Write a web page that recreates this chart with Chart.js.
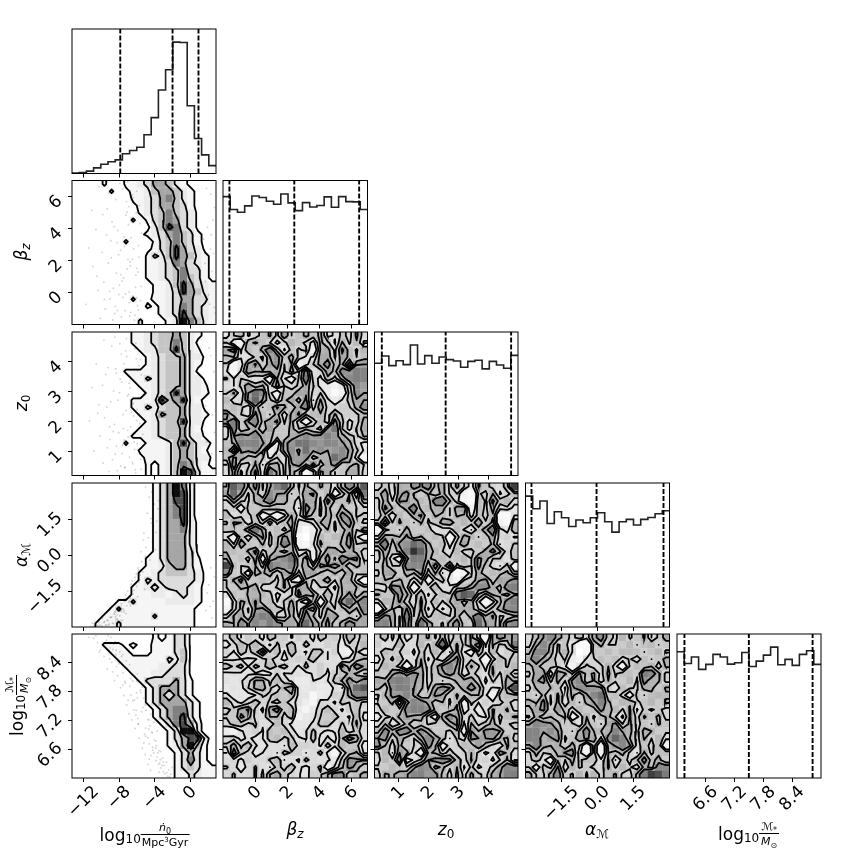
<!DOCTYPE html>
<html>
<head>
<meta charset="utf-8">
<script src="https://cdn.jsdelivr.net/npm/chart.js@4"></script>
<style>
html,body{margin:0;padding:0;background:#fff;width:850px;height:850px;overflow:hidden;}
canvas{position:absolute;left:0;top:0;}
.lab{position:absolute;font-family:"DejaVu Sans";color:#000;white-space:nowrap;transform:translate(-50%,-50%);display:flex;align-items:center;font-size:17px;line-height:1;}
.rot{transform:translate(-50%,-50%) rotate(-90deg);}
.lab i{font-style:italic;}
.sub{font-size:12px;position:relative;top:4px;}
.frac{display:inline-flex;flex-direction:column;align-items:center;font-size:11px;margin-left:1px;}
.frac span:first-child{border-bottom:1px solid #000;padding:0 1px 1px 1px;width:100%;text-align:center;}
.frac span:last-child{padding-top:2px;}
.frac sup{font-size:7px;line-height:0;vertical-align:4px;}
.frac sub{font-size:8px;line-height:0;}
</style>
</head>
<body>
<script>
// axis ranges and ticks
const rangeLogN = [-13.3, 2.9];
const rangeBeta = [-2, 7];
const rangeZ = [0.2, 5];
const rangeAlpha = [-3, 3];
const rangeMass = [6, 9];
const ticksLogN = [-12, -8, -4, 0];
const ticksBeta = [0, 2, 4, 6];
const ticksZ = [1, 2, 3, 4];
const ticksAlpha = [-1.5, 0, 1.5];
const ticksMass = [6.6, 7.2, 7.8, 8.4];
const labelsLogN = ['\u221212', '\u22128', '\u22124', '0'];
const labelsBeta = ['0', '2', '4', '6'];
const labelsZ = ['1', '2', '3', '4'];
const labelsAlpha = ['\u22121.5', '0.0', '1.5'];
const labelsMass = ['6.6', '7.2', '7.8', '8.4'];

// histograms, 20 bins, tallest bin = 100
const histLogN = [0.3,0.8,1.8,4.3,7,9,10.4,15,17.5,20,29.5,42.5,63.6,79,100,99.7,51.6,26.7,14.2,6];
const histBeta = [97.7,87.8,85.8,90.6,98.2,97,94.2,91.9,99.7,92.9,87,93.1,89.8,90.9,97.5,89.6,97.7,93.9,93.7,87.8];
const histZ = [86,91.6,84.2,88,85,100,85.5,91.9,86,90.8,88.8,87.8,83,87.5,88.3,81.7,87.5,84.7,82.2,92.1];
const histAlpha = [100,90.3,96.2,79.1,88,83.5,76.8,81.7,79.6,83.5,87.3,80.4,72.5,80.4,82.2,77.9,82.2,83.7,86.5,88.8];
const histMass = [96.4,87.5,92.4,83,86.8,94.4,92.4,87,88,95.9,85.2,89.3,93.9,100,86.5,90.6,86,94.4,97.2,86.8];
const quantLogN = [-7.87, -1.99, 0.93];
const quantBeta = [-1.6, 2.44, 6.48];
const quantZ = [0.445, 2.58, 4.77];
const quantAlpha = [-2.75, -0.04, 2.75];
const quantMass = [6.155, 7.497, 8.825];

// density grids, top row first, digit 0 (empty) to 9 (peak)
const gridBetaLogN = ["00002002234665321000","00000201223566532100","00000000223467532100","00000000123466542100","00000000023457543100","00000000202457643100","00000000001358743100","00000000012346754210","00000002000245754210","00000000001245864310","00000000002435865321","00000000002234764321","00000000002234574421","00000000002234575421","00000000000223586432","00000000000223486532","00000000201223466442","00000000002123476432","00000000000123486432","00000000020012397532"];
const gridZLogN = ["00000000223455653210","00000000223455753100","00000000023355853200","00000000002345563310","00000000002345563210","00000002222345563100","00000000224345563310","00000000022345563320","00000000002345863321","00000000222385683210","00000000224345563310","00000000022365563321","00000000002345583310","00000000022345563210","00000000222345563310","00000002002223585331","00000000022223565320","00000000012223565331","00000000002123576321","00000000002123598422"];
const gridAlphaLogN = ["00000000000246973000","00000000000246983000","00000000000246883000","00000000000246783000","00000000000246783000","00000000000246683100","00000000000246673100","00000000000246663100","00000000000246663100","00000000000246664100","00000000002246664200","00000000002235664210","00000000022345554310","00000000024344444310","00000000223434443210","00000000222332343210","00000022422223333210","00000242222222222100","00002222222422222100","00022242222222222100"];
const gridMassLogN = ["00000000000212441000","00002221211222441000","00000222111222451000","00000022222224351000","00000002222233441000","00000000222334441000","00000000024444642000","00000000002466642000","00000000002464642000","00000000002466664200","00000000000246774200","00000000000246784200","00000000000024786300","00000000000002499300","00000000000002468830","00000000000002369520","00000000000000246420","00000000000000247420","00000000000000245422","00000000000000224322"];
const gridZBeta = ["35634564745656345464","52166543465436536463","68364685354616647546","56435467565346646645","51367467461356756176","41475666474834657777","54534416415843646777","43574647454653323576","47368741647645312576","63478653574736434566","46536457646837445467","74537546367465464545","68477567464146375346","38456474564653784356","46767656466767766546","56777671768776776643","61767614675867667654","57655535376746587641","38446366467584674565","46357386465137645664"];
const gridAlphaBeta = ["58757467864646546768","68646476645674614618","46546685654664765646","45164646553764646454","63546141364754657645","46635474663346646754","56478646363134645647","41635745761136465741","63754645862146546746","56467456464534674654","64637166784716748674","95465487675647676465","74517564674675464746","46754654631645746641","54657345647635436565","36465653447664645746","14657463564161547867","24646746473774645657","46647783464754674546","65767677665865746766"];
const gridMassBeta = ["46354364535436453645","34646435463643543546","53645846364356353163","34343454345463443546","64636464643635438486","34343335344345354654","43446646433343456757","34356653673343343688","43433546463413354677","64346453634315436454","45674368463144643554","54764465461435464363","46545436434345635464","31445364643454346354","45343456454363435864","56464344364543646453","38543443645346314563","44354456343643535767","54345435464346145764","45445366544354677456"];
const gridAlphaZ = ["45465767564653654459","57367546464521546345","46476564876411647564","47646846564681646453","45364674654653546114","58465464567465746216","14546546344643568436","46657464651466456453","68476876463574646345","46567985644635467645","46416776464564764536","56457774848464754361","46746574634115646564","56465461463164674757","43865145634646776487","65476463464798546646","46574464646646413577","14647463534666445677","57648464564646857445","77647486546754866477"];
const gridMassZ = ["46353456464546416766","53464464594646836448","46545354643641646354","35464463536745414645","46541464577646536546","54676764567635446463","66777664544666535465","64777664677467644369","46677645764655641655","54716776464616354454","46457777645634346564","34566664177645436456","46346454646736456454","57677676454617576745","67465467663547667564","75464547615464754365","46367416545446434754","46491456777546453463","54645677464635345677","46566776754646546677"];
const gridMassAlpha = ["45676546467546456356","46764541156454645645","57764641164646564564","67654531546464536456","56464414544641564636","46717647564646548764","56746477463654647564","46565367767436546646","54646464678464164565","65746364667646645646","56747546457564635454","46464714645643646564","67766463654674645465","77676546756576646645","77567456764787546464","67656465161667745461","46465774161656436456","46416464654635467564","51647364544646536477","65467546464564467987"];
const levelsRidge = [1.5, 3.5, 5.5, 7.5];
const levelsFlat = [3.8, 4.6, 5.4, 6.1];

// low-density samples left of the contours
const dotsBetaX = [-10.23,-9.14,-8.37,-7.62,-6.91,-11.08,-9.83,-8.79,-7.24,-6.33,-10.61,-9.42,-8.13,-7.38,-6.64,-5.81,-11.42,-9.91,-8.87,-7.83,-6.76,-10.94,-9.21,-8.31,-7.09,-6.12,-5.53,-9.72,-8.64,-7.51,-6.44,-10.37,-9.03,-8.02,-6.87,-5.94,-11.71,-9.56,-8.48,-7.33,-6.21,-10.12,-8.71,-7.74,-6.68,-5.62,-9.33,-8.22,-7.01,-6.04,-7.91,-6.52,-5.71,-7.17,-6.08,-8.55,-6.95,-5.47,-7.46,-6.37,-8.06,-6.73,-5.89,-7.68,-6.16,-9.07,-7.29,-5.58,-6.81,-8.41,-7.56,-6.27,-5.76,-7.02,-6.59,-8.93,-7.79,-5.99,-6.42,-7.13,-10.48,-6.02,-5.66,-8.18,-7.41,-6.49,-9.66,-7.95,-6.88,-5.83,2.31,1.94,2.62,1.71,2.18,2.73,1.52,2.44,2.07,2.81,1.83,2.55,2.26,1.66,2.69,2.38];
const dotsBetaY = [6.63,6.22,5.81,6.48,5.37,5.14,4.87,4.42,4.83,4.57,3.94,3.61,3.88,3.17,3.42,2.93,2.78,2.51,2.16,2.64,1.92,1.63,1.84,1.21,1.47,1.08,0.38,0.64,0.27,0.91,-0.23,0.13,-0.41,-0.12,-0.63,-0.82,-0.74,-1.03,-1.31,-1.14,-1.42,-1.61,-1.72,-1.53,-1.24,-1.84,5.23,3.12,2.07,-0.34,6.81,6.12,5.43,5.68,4.97,4.11,4.23,3.71,3.48,2.72,2.36,1.67,1.28,0.72,0.33,0.07,-0.09,-0.52,-1.47,-0.87,-0.31,-1.73,2.21,6.92,4.66,3.23,1.12,1.51,5.93,5.02,1.02,6.33,4.31,-1.12,2.87,2.08,-0.43,0.47,0.03,-1.09,6.14,4.08,2.43,0.71,-0.73,5.31,3.33,1.32,-0.14,-1.29,6.51,4.52,2.71,1.83,-0.93,3.61];
const dotsZX = [-9.71,-8.83,-7.92,-7.14,-6.23,-5.61,-10.57,-9.24,-8.31,-7.43,-6.64,-5.92,-11.03,-9.87,-8.62,-7.71,-6.94,-5.42,-10.28,-9.38,-8.13,-7.21,-6.41,-5.73,-11.32,-9.64,-8.52,-7.53,-6.72,-6.03,-10.14,-9.02,-8.04,-7.02,-6.31,-5.34,-10.83,-9.31,-8.43,-7.61,-6.83,-5.84,-9.81,-8.74,-7.82,-6.52,-5.53,-9.13,-8.21,-7.33,-6.14,-8.47,-7.26,-6.11,-5.77,-7.88,-6.78,-5.49,-7.05,-6.37,-8.94,-7.51,-6.59,-5.68,-8.28,-6.98,-5.96,-7.67,-6.48,-5.58,-9.49,-7.17,-6.07,-5.81,-8.66,-7.38,-6.26,-5.44,-7.96,-6.69,-10.41,-9.07,-8.37,-7.74,-6.89,-5.97,-7.42,-6.18,2.31,2.04,2.52,1.83,2.27,2.66,1.74,2.41,2.12,2.74];
const dotsZY = [4.72,4.53,4.61,4.18,4.44,4.07,3.93,3.81,3.62,3.94,3.47,3.71,3.14,3.22,3.03,3.33,2.91,3.08,2.57,2.49,2.72,2.38,2.61,2.27,2.02,2.13,1.91,2.24,1.83,2.04,1.52,1.41,1.63,1.71,1.32,1.58,1.02,1.13,0.91,1.23,0.81,1.04,0.62,0.73,0.52,0.64,0.41,0.33,0.36,0.47,0.28,4.83,4.37,4.62,3.88,3.42,3.13,3.57,2.86,2.19,2.67,1.77,2.32,1.94,1.18,1.49,1.27,0.94,0.59,0.74,3.58,4.78,4.11,2.81,1.67,0.47,1.07,0.87,2.97,3.72,2.28,1.83,3.77,4.26,3.28,2.41,1.38,0.39,4.21,3.09,2.22,1.32,0.71,3.67,2.53,0.93,4.46,1.64,0.42,3.36];
const dotsAlphaX = [-5.02,-4.61,-4.33,-4.04,-3.62,-4.83,-4.41,-4.12,-3.84,-5.21,-4.72,-4.23,-3.93,-5.53,-5.04,-4.52,-4.91,-5.82,-5.33,-6.21,-5.71,-6.63,-6.02,-5.14,-7.03,-6.42,-7.31,-6.84,-5.92,-7.72,-7.13,-8.04,-7.43,-6.72,-8.51,-7.92,-7.23,-8.93,-8.34,-7.61,-9.32,-8.73,-8.12,-9.71,-9.13,-10.14,-9.52,-8.63,-10.51,-9.94,-10.93,-9.41,-11.24,-10.32,-5.44,-4.98,-6.53,-5.87,-7.28,-6.31,-7.95,-6.92,-8.47,-7.51,-9.01,-8.19,-9.64,-8.84,-10.27,-9.28,-10.72,-7.78,-6.13,-5.62,-8.26,-4.37,-3.78,-5.27,-6.77,-7.56,-9.86,-11.01,-8.58,-4.15,-3.55,-6.07,-7.37,-5.76,-9.17,-8.41,2.31,2.08,2.57,1.77,2.44,2.72,1.92,2.23];
const dotsAlphaY = [2.84,2.41,2.63,2.12,1.93,1.74,1.52,1.21,0.94,0.91,0.72,0.53,0.23,0.14,-0.07,-0.21,-0.43,-0.62,-0.71,-0.93,-1.04,-1.22,-1.31,-1.43,-1.52,-1.63,-1.81,-1.92,-1.74,-2.03,-2.11,-2.22,-2.31,-2.13,-2.42,-2.53,-2.44,-2.61,-2.66,-2.72,-2.71,-2.83,-2.76,-2.81,-2.87,-2.91,-2.93,-2.86,-2.94,-2.96,-2.97,-2.92,-2.98,-2.95,-0.27,0.31,-1.07,-0.54,-1.67,-1.47,-2.17,-1.97,-2.36,-2.39,-2.59,-2.68,-2.77,-2.58,-2.79,-2.74,-2.89,-2.33,-1.21,-0.83,-2.49,1.33,1.41,0.62,-1.77,-2.24,-2.64,-2.84,-2.47,1.02,2.27,-0.79,-1.94,-1.14,-2.91,-2.57,-0.53,-1.24,-1.93,-2.31,-2.62,-0.91,-1.58,-2.14];
const dotsMassX = [-10.87,-10.43,-9.42,-9.01,-8.64,-11.41,-10.23,-9.68,-8.83,-8.37,-7.92,-9.33,-8.74,-8.28,-7.21,-6.82,-8.52,-7.57,-6.69,-6.23,-5.94,-7.46,-6.47,-6.04,-5.62,-6.38,-6.11,-5.31,-5.03,-5.84,-5.02,-4.63,-5.14,-4.74,-4.32,-4.62,-4.23,-3.87,-4.11,-3.73,-3.52,-3.84,-3.43,-3.12,-3.31,-2.93,-2.67,-3.01,-2.63,-2.41,-2.54,-2.22,-2.03,-2.32,-9.61,-10.12,-8.92,-8.46,-9.07,-7.73,-8.18,-7.57,-7.06,-7.84,-7.31,-6.76,-6.47,-7.14,-6.88,-6.27,-5.96,-6.58,-6.21,-5.84,-5.48,-5.77,-5.38,-5.02,-4.67,-5.06,-4.61,-4.23,-3.88,-4.47,-3.55,-8.69,-8.03,-7.37,-6.67,-5.91,-5.21,-4.42,-9.24,-10.62,-7.61,-6.09,-4.77,-3.52,-8.33,-6.98,-5.55,-5.22,-4.96,-4.78,-4.52,-4.27,-4.04,-3.81,-3.64,-3.37,-3.18,-2.86,-6.02,-5.41,-4.88,-4.44,-4.09,-3.71,-3.33,-3.04];
const dotsMassY = [8.91,8.82,8.87,8.71,8.79,8.93,8.62,8.53,8.41,8.57,8.63,8.27,8.21,8.32,8.44,8.36,8.03,7.94,8.07,8.12,8.17,7.72,7.61,7.77,7.83,7.42,7.31,7.47,7.52,7.13,7.04,7.21,6.91,6.84,6.96,6.71,6.64,6.77,6.52,6.44,6.57,6.36,6.31,6.41,6.21,6.26,6.33,6.13,6.11,6.17,6.04,6.08,6.22,6.02,8.74,8.66,8.93,8.84,8.48,8.53,8.13,8.19,8.28,7.88,7.98,7.91,8.02,7.52,7.34,7.63,7.67,7.21,7.03,7.12,7.38,6.83,6.62,6.87,7.02,6.49,6.39,6.58,6.62,6.16,6.29,8.68,8.38,8.01,7.73,7.24,6.73,6.47,8.97,8.96,8.57,7.41,6.28,6.12,8.66,7.62,7.78,7.66,7.41,7.22,7.09,6.94,6.79,6.67,6.52,6.38,6.26,6.09,8.02,7.89,7.56,7.33,7.16,6.98,6.55,6.34];

// panel edges in the page
const colEdges = [[72,216],[223,367.5],[374.5,518],[525.5,669.5],[677,821]];
const rowEdges = [[29,173.5],[180.5,324.5],[332,475.5],[483,627],[634,778]];
const shades = [255,255,245,235,220,196,166,128,77,13];

const tickFont = '17px "DejaVu Sans"';

function gridValues(grid, smooth){
    const raw = grid.map(row=>Array.from({length:20},(_,c)=>Number(row[c]||0)));
    if(!smooth) return raw;
    const at = (r,c)=>raw[Math.min(19,Math.max(0,r))][Math.min(19,Math.max(0,c))];
    return raw.map((row,r)=>row.map((v,c)=>(6*v+at(r-1,c)+at(r+1,c)+at(r,c-1)+at(r,c+1))/10));
}

function shadeOf(v){
    const i = Math.min(8,Math.floor(v)), t = v-i;
    const g = Math.round(shades[i]+(shades[i+1]-shades[i])*t);
    return 'rgb('+g+','+g+','+g+')';
}

function contourSegments(vals, level, xr, yr){
    const bw = (xr[1]-xr[0])/20, bh = (yr[1]-yr[0])/20;
    const val = (r,c)=>vals[Math.min(19,Math.max(0,r))][Math.min(19,Math.max(0,c))];
    const px = c=>xr[0]+(c+0.5)*bw;
    const py = r=>yr[1]-(r+0.5)*bh;
    const out = [];
    for(let r=-1;r<20;r++){
        for(let c=-1;c<20;c++){
            const a=val(r,c), b=val(r,c+1), d=val(r+1,c+1), e=val(r+1,c);
            const cross=[];
            if((a>level)!==(b>level)) cross.push({x:px(c+(level-a)/(b-a)),y:py(r)});
            if((b>level)!==(d>level)) cross.push({x:px(c+1),y:py(r+(level-b)/(d-b))});
            if((e>level)!==(d>level)) cross.push({x:px(c+(level-e)/(d-e)),y:py(r+1)});
            if((a>level)!==(e>level)) cross.push({x:px(c),y:py(r+(level-a)/(e-a))});
            if(cross.length===2){
                out.push(cross[0],cross[1],{x:null,y:null});
            }else if(cross.length===4){
                const mid=(a+b+d+e)/4;
                if((mid>level)===(a>level)){
                    out.push(cross[0],cross[1],{x:null,y:null},cross[2],cross[3],{x:null,y:null});
                }else{
                    out.push(cross[3],cross[0],{x:null,y:null},cross[1],cross[2],{x:null,y:null});
                }
            }
        }
    }
    return out;
}

function densityDatasets(grid, levels, smooth, xr, yr, dotsX, dotsY){
    const bw = (xr[1]-xr[0])/20, bh = (yr[1]-yr[0])/20;
    const vals = gridValues(grid,smooth);
    const cells = [], colors = [];
    vals.forEach((row,r)=>{
        row.forEach((v,c)=>{
            if(v<1.5) return;
            cells.push({x:xr[0]+(c+0.5)*bw, y:yr[1]-(r+0.5)*bh});
            colors.push(shadeOf(v));
        });
    });
    const sets = levels.map(l=>({
        data: contourSegments(vals,l,xr,yr),
        showLine:true, pointRadius:0, borderColor:'#000', borderWidth:1.8,
        borderCapStyle:'round', spanGaps:false, clip:0, order:0
    }));
    sets.push({
        data: cells, pointStyle:'rect', pointRadius:5.3, pointBorderWidth:0,
        backgroundColor:colors, pointBackgroundColor:colors, showLine:false, clip:0, order:2
    });
    if(dotsX){
        sets.push({
            data: dotsX.map((x,i)=>({x:x,y:dotsY[i]})),
            pointRadius:0.95, pointBorderWidth:0, backgroundColor:'rgba(0,0,0,0.17)', pointBackgroundColor:'rgba(0,0,0,0.17)',
            showLine:false, clip:0, order:1
        });
    }
    return sets;
}

function histDatasets(hist, quant, xr){
    const bw = (xr[1]-xr[0])/20;
    const steps = hist.map((h,i)=>({x:xr[0]+i*bw,y:h}));
    steps.push({x:xr[1],y:hist[19]});
    const sets = [{
        data:steps, showLine:true, stepped:true, pointRadius:0,
        borderColor:'#222', borderWidth:1.6, clip:0, order:1
    }];
    quant.forEach(q=>sets.push({
        data:[{x:q,y:0},{x:q,y:110}], showLine:true, pointRadius:0,
        borderColor:'#000', borderWidth:1.9, borderDash:[5,2], clip:0, order:0
    }));
    return sets;
}

const framePlugin = {
    id:'frame',
    afterDatasetsDraw(chart){
        const a = chart.chartArea, ctx = chart.ctx;
        ctx.save();
        ctx.strokeStyle='#000';
        ctx.lineWidth=1;
        ctx.strokeRect(a.left,a.top,a.right-a.left,a.bottom-a.top);
        ctx.restore();
    }
};

const tickTextPlugin = {
    id:'tickText',
    afterDraw(chart,args,opts){
        const ctx = chart.ctx, a = chart.chartArea;
        ctx.save();
        ctx.font = tickFont;
        ctx.fillStyle = '#000';
        ctx.textAlign = 'center';
        ctx.textBaseline = 'middle';
        (opts.x||[]).forEach((txt,i)=>{
            const w = ctx.measureText(txt).width;
            const off = (w+12)*0.7071/2;
            ctx.save();
            ctx.translate(chart.scales.x.getPixelForValue(opts.xt[i]), a.bottom+7+off);
            ctx.rotate(-Math.PI/4);
            ctx.fillText(txt,0,0);
            ctx.restore();
        });
        (opts.y||[]).forEach((txt,i)=>{
            const w = ctx.measureText(txt).width;
            const off = (w+12)*0.7071/2;
            ctx.save();
            ctx.translate(a.left-8-off, chart.scales.y.getPixelForValue(opts.yt[i])+6);
            ctx.rotate(-Math.PI/4);
            ctx.fillText(txt,0,0);
            ctx.restore();
        });
        ctx.restore();
    }
};

function addPanel(col,row,datasets,xr,yr,xt,yt,xLabels,yLabels){
    const cv = document.createElement('canvas');
    cv.width = 850; cv.height = 850;
    document.body.appendChild(cv);
    const L = colEdges[col][0], R = colEdges[col][1], T = rowEdges[row][0], B = rowEdges[row][1];
    const tickOpts = {drawOnChartArea:false, drawTicks:true, tickLength:4, tickColor:'#000', tickWidth:1};
    return new Chart(cv,{
        type:'scatter',
        data:{datasets:datasets},
        options:{
            responsive:false, animation:false, events:[],
            layout:{padding:{left:L-6, right:850-R, top:T, bottom:850-B-6}},
            plugins:{legend:{display:false}, tooltip:{enabled:false},
                tickText:{x:xLabels, xt:xt, y:yLabels, yt:yt}},
            scales:{
                x:{type:'linear', min:xr[0], max:xr[1], grid:tickOpts, border:{display:false},
                    ticks:{display:false},
                    afterBuildTicks:s=>{s.ticks = xt.map(v=>({value:v}));},
                    afterFit:s=>{s.height=6;}},
                y:{type:'linear', min:yr[0], max:yr[1], grid:tickOpts, border:{display:false},
                    ticks:{display:false},
                    afterBuildTicks:s=>{s.ticks = yt.map(v=>({value:v}));},
                    afterFit:s=>{s.width=6;}}
            }
        },
        plugins:[framePlugin,tickTextPlugin]
    });
}

const ranges = [rangeLogN,rangeBeta,rangeZ,rangeAlpha,rangeMass];
const ticks = [ticksLogN,ticksBeta,ticksZ,ticksAlpha,ticksMass];
const labels = [labelsLogN,labelsBeta,labelsZ,labelsAlpha,labelsMass];
const hists = [histLogN,histBeta,histZ,histAlpha,histMass];
const quants = [quantLogN,quantBeta,quantZ,quantAlpha,quantMass];

// diagonal
for(let i=0;i<5;i++){
    addPanel(i,i,histDatasets(hists[i],quants[i],ranges[i]),ranges[i],[0,110],ticks[i],[],i===4?labels[4]:[],[]);
}
// lower triangle
const pairs = [
    [0,1,gridBetaLogN,levelsRidge,false,dotsBetaX,dotsBetaY],
    [0,2,gridZLogN,levelsRidge,false,dotsZX,dotsZY],
    [0,3,gridAlphaLogN,levelsRidge,false,dotsAlphaX,dotsAlphaY],
    [0,4,gridMassLogN,levelsRidge,false,dotsMassX,dotsMassY],
    [1,2,gridZBeta,levelsFlat,true],[1,3,gridAlphaBeta,levelsFlat,true],[1,4,gridMassBeta,levelsFlat,true],
    [2,3,gridAlphaZ,levelsFlat,true],[2,4,gridMassZ,levelsFlat,true],[3,4,gridMassAlpha,levelsFlat,true]
];
pairs.forEach(p=>{
    const c=p[0], r=p[1];
    addPanel(c,r,densityDatasets(p[2],p[3],p[4],ranges[c],ranges[r],p[5],p[6]),ranges[c],ranges[r],ticks[c],ticks[r],
        r===4?labels[c]:[], c===0?labels[r]:[]);
});

// axis titles
const logFrac = (top,bottom)=>'log<span class="sub">10</span><span class="frac"><span>'+top+'</span><span>'+bottom+'</span></span>';
const titles = [
    [144,835,logFrac('<i>\u1E45</i><sub>0</sub>','Mpc<sup>3</sup>Gyr'),false],
    [295,829,'<i>\u03B2</i><span class="sub"><i>z</i></span>',false],
    [446,829,'<i>z</i><span class="sub">0</span>',false],
    [597,829,'<i>\u03B1</i><span class="sub">\u2133</span>',false],
    [748,834,logFrac('\u2133<sub>*</sub>','<i>M</i><sub>\u2299</sub>'),false],
    [21,252,'<i>\u03B2</i><span class="sub"><i>z</i></span>',true],
    [21,403,'<i>z</i><span class="sub">0</span>',true],
    [21,555,'<i>\u03B1</i><span class="sub">\u2133</span>',true],
    [17,706,logFrac('\u2133<sub>*</sub>','<i>M</i><sub>\u2299</sub>'),true]
];
titles.forEach(t=>{
    const d = document.createElement('div');
    d.className = 'lab'+(t[3]?' rot':'');
    d.style.left = t[0]+'px';
    d.style.top = t[1]+'px';
    d.innerHTML = t[2];
    document.body.appendChild(d);
});
</script>
</body>
</html>
